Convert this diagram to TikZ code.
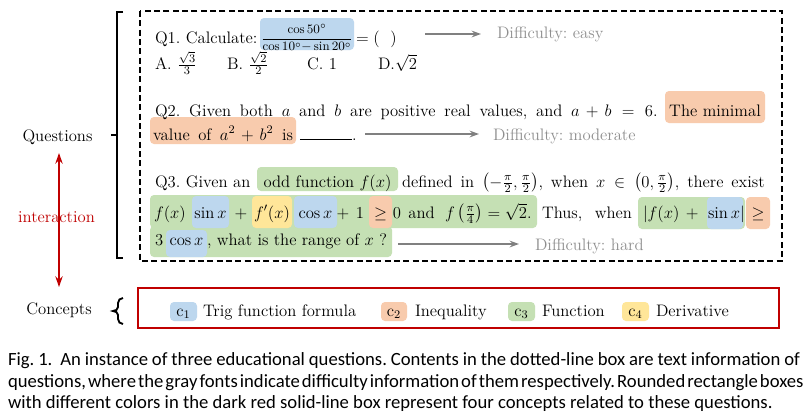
\RequirePackage{fix-cm}
\documentclass[tikz,border=0pt]{standalone}
\usepackage{amsmath}
\usepackage{fontspec}
\newfontfamily\capfont{Carlito}
\usetikzlibrary{arrows.meta}
\definecolor{hlblue}{HTML}{BDD7EE}
\definecolor{hlorange}{HTML}{F8CBAD}
\definecolor{hlgreen}{HTML}{C5E0B4}
\definecolor{hlyellow}{HTML}{FFE699}
\definecolor{darkred}{HTML}{C00000}
\definecolor{diffgray}{HTML}{8F8F8F}
\definecolor{arrgray}{HTML}{808080}
\newcommand\qf{\fontsize{12.5}{15}\selectfont\frenchspacing}
\newcommand\cf{\capfont\fontsize{14}{16}\selectfont\frenchspacing}
\newcommand\qfrac{{\fontsize{9.6}{11}\selectfont$\dfrac{\cos 50^{\circ}}{\cos 10^{\circ}{-}\sin 20^{\circ}}$}}
\begin{document}
\begin{tikzpicture}[x=0.75pt,y=-0.75pt,
  txt/.style={anchor=base west,inner sep=0pt,outer sep=0pt,font=\qf},
  ctr/.style={anchor=base,inner sep=0pt,outer sep=0pt,font=\qf},
  dif/.style={txt,text=diffgray},
  hl/.style={rounded corners=3pt},
  garrow/.style={draw=arrgray,line width=1.5pt,-{Stealth[length=7pt,width=5pt]}},
  redarrow/.style={draw=darkred,line width=1.5pt,{Stealth[length=8pt,width=5.5pt]}-{Stealth[length=8pt,width=5.5pt]}},
  brk/.style={draw=black,line width=1.4pt},
  dashbox/.style={draw=black,line width=1.3pt,dash pattern=on 4.5pt off 2.5pt},
  redbox/.style={draw=darkred,line width=1.5pt},
  capt/.style={txt,font=\cf}]
\useasboundingbox (0,0) rectangle (807,419);
\fill[white] (0,0) rectangle (807,419);

% boxes and brackets
\draw[dashbox] (140,11) rectangle (782,261);
\draw[brk] (123,12) -- (117,12) -- (117,258) -- (123,258);
\draw[brk] (117,135) -- (111,135);
\draw[brk] (123,298) to[out=180,in=90] (118,303) -- (118,307) to[out=-90,in=0] (113,311)
  to[out=0,in=90] (118,315) -- (118,319) to[out=-90,in=180] (123,324);
\draw[redbox] (138,288) rectangle (779,328);

% left labels
\coordinate (ia) at (59,153);
\coordinate (ib) at (59,287);
\draw[redarrow] (ia) -- (ib);
\node[ctr] (lq) at (57.5,141) {Questions};
\node[ctr,text=darkred] (li) at (56.5,222) {interaction};
\node[ctr] (lc) at (59,314) {Concepts};

% Q1
\fill[hlblue,hl] (260,18) rectangle (354,50);
\node[txt] (q1) at (155,43) {Q1. Calculate:};
\node[ctr] (q1f) at (307,42) {\qfrac};
\node[txt] (q1e) at (356,43) {$=(\hspace{8pt})$};
\coordinate (a1s) at (425,34);
\coordinate (a1e) at (481,34);
\draw[garrow] (a1s) -- (a1e);
\node[dif] (d1) at (497,38) {Difficulty: easy};
\node[txt] (oA) at (155,69) {A. $\frac{\sqrt{3}}{3}$};
\node[txt] (oB) at (227,69) {B. $\frac{\sqrt{2}}{2}$};
\node[txt] (oC) at (307,69) {C. 1};
\node[txt] (oD) at (378,69) {D.$\sqrt{2}$};

% Q2
\fill[hlorange,hl] (665,91) rectangle (765,123);
\fill[hlorange,hl] (150,117) rectangle (296,144);
\node[txt] (q2a) at (155,116) {\makebox[377pt][s]{Q2. Given both $a$ and $b$ are positive real values, and $a+b=6$.}};
\node[ctr] (q2b) at (715,116) {The minimal};
\node[txt] (q2c) at (153,140) {\makebox[105pt][s]{value of $a^2+b^2$ is}};
\node[txt] (q2d) at (300,140) {\rule{39pt}{0.6pt}.};
\coordinate (a2s) at (365,134);
\coordinate (a2e) at (479,134);
\draw[garrow] (a2s) -- (a2e);
\node[dif] (d2) at (493,140) {Difficulty: moderate};

% Q3 highlights
\fill[hlgreen,hl] (257,167) rectangle (398,191);
\fill[hlgreen,hl] (150,195) rectangle (537,228);
\fill[hlgreen,hl] (150,226) rectangle (392,257);
\fill[hlblue,hl] (192,196) rectangle (229,228);
\fill[hlyellow,hl] (252,196) rectangle (292,228);
\fill[hlblue,hl] (294,196) rectangle (337,228);
\fill[hlorange,hl] (369,196) rectangle (392,228);
\fill[hlblue,hl] (166,230) rectangle (207,257);
\fill[hlgreen,hl] (638,197) rectangle (745,229);
\fill[hlblue,hl] (707,197) rectangle (743,229);
\fill[hlorange,hl] (746,197) rectangle (770,229);

% Q3 line 1
\node[txt] (q3a) at (155,187) {Q3. Given an};
\node[ctr] (q3b) at (327.5,187) {odd function $f(x)$};
\node[txt] (q3c) at (402,187) {\makebox[272pt][s]{defined in $\left(-\frac{\pi}{2},\frac{\pi}{2}\right)$, when $x\in\left(0,\frac{\pi}{2}\right)$, there exist}};

% Q3 line 2
\node[txt] (l2a) at (154,218) {$f(x)$};
\node[ctr] (l2b) at (210.5,218) {$\sin x$};
\node[ctr] (l2c) at (241,218) {$+$};
\node[ctr] (l2d) at (272,218) {$f'(x)$};
\node[ctr] (l2e) at (315.5,218) {$\cos x$};
\node[ctr] (l2f) at (343,218) {$+$};
\node[ctr] (l2g) at (360,218) {$1$};
\node[ctr] (l2h) at (380.5,218) {$\geq$};
\node[ctr] (l2i) at (397,218) {$0$};
\node[ctr] (l2j) at (421.5,218) {and};
\node[txt] (l2k) at (445,218) {$f\left(\frac{\pi}{4}\right)=\sqrt{2}.$};
\node[txt] (l2l) at (542,218) {\makebox[67.5pt][s]{Thus, when}};
\node[txt] (l2m) at (643,218) {$|f(x)\,+{}$};
\node[txt] (l2n) at (708,218) {$\sin x|$};
\node[ctr] (l2o) at (758,218) {$\geq$};

% Q3 line 3
\node[txt] (l3a) at (155,245) {$3$};
\node[ctr] (l3b) at (186.5,245) {$\cos x$};
\node[txt] (l3c) at (207,245) {\makebox[135pt][s]{, what is the range of $x$ ?}};
\coordinate (a3s) at (398,244);
\coordinate (a3e) at (519,244);
\draw[garrow] (a3s) -- (a3e);
\node[dif] (d3) at (535,250) {Difficulty: hard};

% concepts
\fill[hlblue,hl] (170,302) rectangle (197,321);
\node[ctr] (c1) at (183.5,316) {c$_1$};
\node[txt] (t1) at (203,316) {Trig function formula};
\fill[hlorange,hl] (381,302) rectangle (407,321);
\node[ctr] (c2) at (394,316) {c$_2$};
\node[txt] (t2) at (415,316) {Inequality};
\fill[hlgreen,hl] (508,302) rectangle (535,321);
\node[ctr] (c3) at (521.5,316) {c$_3$};
\node[txt] (t3) at (542,316) {Function};
\fill[hlyellow,hl] (622,302) rectangle (649,321);
\node[ctr] (c4) at (635.5,316) {c$_4$};
\node[txt] (t4) at (656,316) {Derivative};

% caption
\node[capt] (cap1) at (8,365) {\makebox[594pt][s]{Fig. 1.\ \ An instance of three educational questions. Contents in the dotted-line box are text information of}};
\node[capt] (cap2) at (8,387) {\spaceskip=0.16em plus 1em minus 0.05em\makebox[594pt][s]{questions, where the gray fonts indicate difficulty information of them respectively. Rounded rectangle boxes}};
\node[capt] (cap3) at (8,408) {with different colors in the dark red solid-line box represent four concepts related to these questions.};
\end{tikzpicture}
\end{document}
